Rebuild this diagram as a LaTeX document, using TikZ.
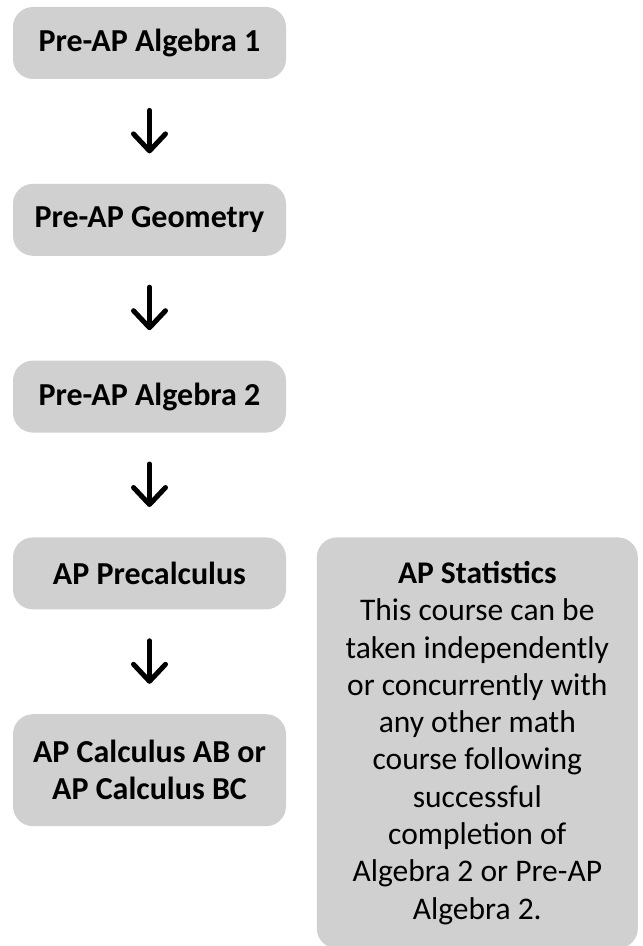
\documentclass[tikz,border=0pt]{standalone}
\usepackage{fontspec}
\setmainfont{Carlito}
\usepackage{xcolor}
\usepackage{tikz}
\usetikzlibrary{positioning, arrows.meta}
\definecolor{boxgray}{RGB}{208,208,208}

\begin{document}
\begin{tikzpicture}[
    node distance=52pt,
    course/.style={rectangle, rounded corners=10pt, fill=boxgray,
                minimum width=136.5pt, minimum height=36pt, align=center,
                font=\fontsize{16pt}{18.5pt}\selectfont\bfseries},
    note/.style={rectangle, rounded corners=10pt, fill=boxgray,
                minimum width=160.5pt, minimum height=205.5pt, align=center,
                inner sep=0pt, font=\fontsize{15.75pt}{18.65pt}\selectfont},
    arrow/.style={-{Straight Barb[length=8.5pt, width=16pt, line cap=round, line join=round]},
                line width=2.5pt, line cap=round, shorten <=15.5pt, shorten >=15pt},
]
\useasboundingbox (0,0) rectangle (321pt,-473pt);
\node[course] (alg1) at (74.75pt,-21.5pt) {Pre-AP Algebra 1};
\node[course, below=of alg1] (geo) {Pre-AP Geometry};
\node[course, below=of geo] (alg2) {Pre-AP Algebra 2};
\node[course, below=of alg2] (precalc) {AP Precalculus};
\node[course, below=of precalc, minimum height=56pt] (calc) {AP Calculus AB or\\AP Calculus BC};

\draw[arrow] (alg1) -- (geo);
\draw[arrow] (geo) -- (alg2);
\draw[arrow] (alg2) -- (precalc);
\draw[arrow] (precalc) -- (calc);

\node[note, below right=0pt and 15pt of precalc.north east] (stats)
    {\textbf{AP Statistics}\\This course can be\\taken independently\\or concurrently with\\any other math\\course following\\successful\\completion of\\Algebra 2 or Pre-AP\\Algebra 2.};
\end{tikzpicture}
\end{document}
